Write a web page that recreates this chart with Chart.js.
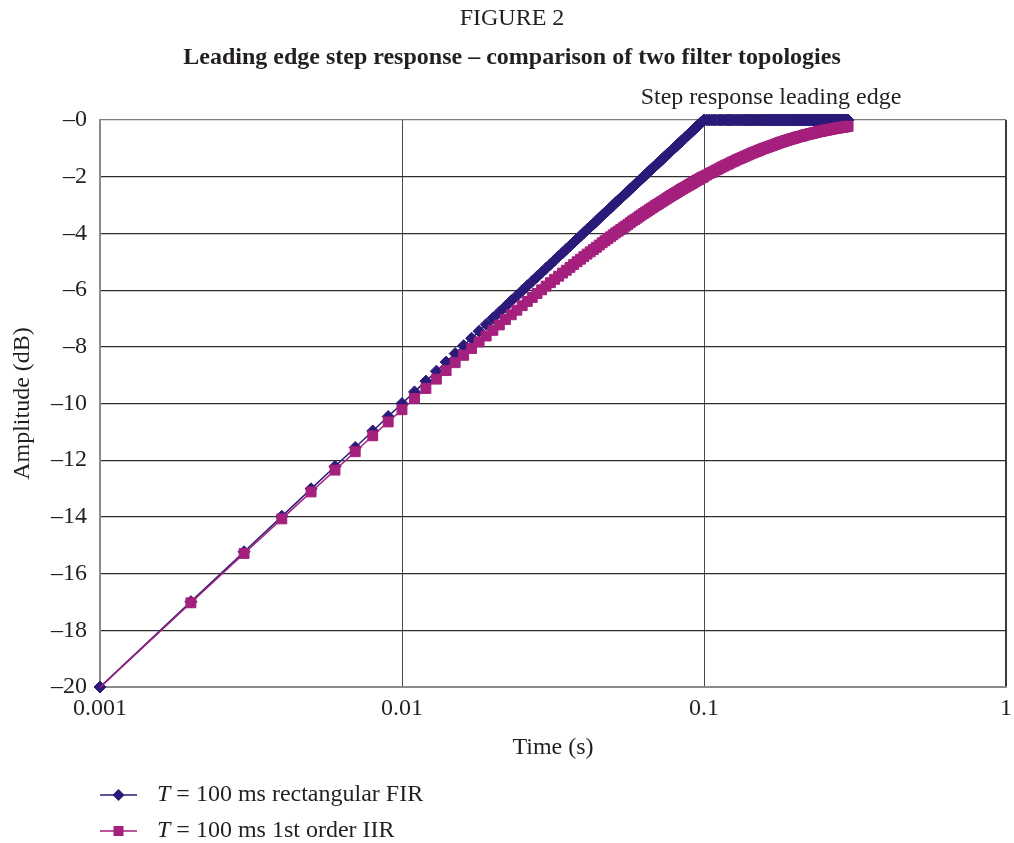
<!DOCTYPE html>
<html>
<head>
<meta charset="utf-8">
<title>Leading edge step response</title>
<script src="https://cdn.jsdelivr.net/npm/chart.js@4"></script>
<style>
  html, body { margin: 0; padding: 0; background: #ffffff; }
  #wrap { width: 1014px; height: 843px; }
</style>
</head>
<body>
<div id="wrap"><canvas id="chart" width="1014" height="843"></canvas></div>
<script>
// Sample times in milliseconds (1 ms steps up to 100 ms, then 2 ms steps).
const timesMs = [
  1,2,3,4,5,6,7,8,9,10,11,12,13,14,15,16,17,18,19,20,
  21,22,23,24,25,26,27,28,29,30,31,32,33,34,35,36,37,38,39,40,
  41,42,43,44,45,46,47,48,49,50,51,52,53,54,55,56,57,58,59,60,
  61,62,63,64,65,66,67,68,69,70,71,72,73,74,75,76,77,78,79,80,
  81,82,83,84,85,86,87,88,89,90,91,92,93,94,95,96,97,98,99,100,
  102,104,106,108,110,112,114,116,118,120,122,124,126,128,130,132,134,136,138,140,
  142,144,146,148,150,152,154,156,158,160,162,164,166,168,170,172,174,176,178,180,
  182,184,186,188,190,192,194,196,198,200,202,204,206,208,210,212,214,216,218,220,
  222,224,226,228,230,232,234,236,238,240,242,244,246,248,250,252,254,256,258,260,
  262,264,266,268,270,272,274,276,278,280,282,284,286,288,290,292,294,296,298,300
];

// T = 100 ms rectangular FIR, amplitude in dB
const firDb = [
  -20.00,-16.99,-15.23,-13.98,-13.01,-12.22,-11.55,-10.97,-10.46,-10.00,
  -9.59,-9.21,-8.86,-8.54,-8.24,-7.96,-7.70,-7.45,-7.21,-6.99,
  -6.78,-6.58,-6.38,-6.20,-6.02,-5.85,-5.69,-5.53,-5.38,-5.23,
  -5.09,-4.95,-4.81,-4.69,-4.56,-4.44,-4.32,-4.20,-4.09,-3.98,
  -3.87,-3.77,-3.67,-3.57,-3.47,-3.37,-3.28,-3.19,-3.10,-3.01,
  -2.92,-2.84,-2.76,-2.68,-2.60,-2.52,-2.44,-2.37,-2.29,-2.22,
  -2.15,-2.08,-2.01,-1.94,-1.87,-1.80,-1.74,-1.67,-1.61,-1.55,
  -1.49,-1.43,-1.37,-1.31,-1.25,-1.19,-1.14,-1.08,-1.02,-0.97,
  -0.92,-0.86,-0.81,-0.76,-0.71,-0.66,-0.60,-0.56,-0.51,-0.46,
  -0.41,-0.36,-0.32,-0.27,-0.22,-0.18,-0.13,-0.09,-0.04,0.00,
  0,0,0,0,0,0,0,0,0,0,0,0,0,0,0,0,0,0,0,0,
  0,0,0,0,0,0,0,0,0,0,0,0,0,0,0,0,0,0,0,0,
  0,0,0,0,0,0,0,0,0,0,0,0,0,0,0,0,0,0,0,0,
  0,0,0,0,0,0,0,0,0,0,0,0,0,0,0,0,0,0,0,0,
  0,0,0,0,0,0,0,0,0,0,0,0,0,0,0,0,0,0,0,0
];

// T = 100 ms 1st order IIR, amplitude in dB
const iirDb = [
  -20.02,-17.03,-15.29,-14.07,-13.12,-12.35,-11.70,-11.14,-10.65,-10.22,
  -9.82,-9.47,-9.14,-8.84,-8.56,-8.30,-8.06,-7.83,-7.62,-7.42,
  -7.23,-7.04,-6.87,-6.71,-6.55,-6.40,-6.26,-6.12,-5.99,-5.86,
  -5.74,-5.62,-5.51,-5.40,-5.30,-5.20,-5.10,-5.00,-4.91,-4.82,
  -4.73,-4.65,-4.57,-4.49,-4.41,-4.33,-4.26,-4.19,-4.12,-4.05,
  -3.98,-3.92,-3.86,-3.80,-3.74,-3.68,-3.62,-3.56,-3.51,-3.46,
  -3.40,-3.35,-3.30,-3.25,-3.21,-3.16,-3.11,-3.07,-3.02,-2.98,
  -2.94,-2.90,-2.86,-2.82,-2.78,-2.74,-2.70,-2.66,-2.63,-2.59,
  -2.56,-2.52,-2.49,-2.45,-2.42,-2.39,-2.36,-2.33,-2.30,-2.27,
  -2.24,-2.21,-2.18,-2.15,-2.12,-2.10,-2.07,-2.04,-2.02,-1.99,
  -1.94,-1.89,-1.85,-1.80,-1.76,-1.72,-1.67,-1.63,-1.59,-1.56,
  -1.52,-1.48,-1.45,-1.41,-1.38,-1.35,-1.32,-1.29,-1.26,-1.23,
  -1.20,-1.17,-1.15,-1.12,-1.10,-1.07,-1.05,-1.02,-1.00,-0.98,
  -0.96,-0.94,-0.92,-0.90,-0.88,-0.86,-0.84,-0.82,-0.80,-0.78,
  -0.77,-0.75,-0.73,-0.72,-0.70,-0.69,-0.67,-0.66,-0.65,-0.63,
  -0.62,-0.60,-0.59,-0.58,-0.57,-0.56,-0.54,-0.53,-0.52,-0.51,
  -0.50,-0.49,-0.48,-0.47,-0.46,-0.45,-0.44,-0.43,-0.42,-0.41,
  -0.40,-0.40,-0.39,-0.38,-0.37,-0.36,-0.36,-0.35,-0.34,-0.34,
  -0.33,-0.32,-0.31,-0.31,-0.30,-0.30,-0.29,-0.28,-0.28,-0.27,
  -0.27,-0.26,-0.26,-0.25,-0.25,-0.24,-0.24,-0.23,-0.23,-0.22
];

// Axis ticks
const xTickValues = [0.001, 0.01, 0.1, 1];
const xTickLabels = ['0.001', '0.01', '0.1', '1'];
const yTickValues = [-20, -18, -16, -14, -12, -10, -8, -6, -4, -2, 0];
const yTickLabels = ['\u201320', '\u201318', '\u201316', '\u201314', '\u201312', '\u201310',
                     '\u20138', '\u20136', '\u20134', '\u20132', '\u20130'];

const seriesNames = ['T = 100 ms rectangular FIR', 'T = 100 ms 1st order IIR'];

const FIR_COLOR = '#2b1a78';
const IIR_COLOR = '#a5207d';
const TEXT_COLOR = '#231f20';
const SERIF = "'Liberation Serif', 'Times New Roman', 'DejaVu Serif', serif";

const toPoints = (vals) => vals.map((v, i) => ({ x: timesMs[i] / 1000, y: v }));

// Titles, the edge annotation and the legend below the plot
const textPlugin = {
  id: 'figureText',
  afterDraw(chart) {
    const ctx = chart.ctx;
    ctx.save();
    ctx.fillStyle = TEXT_COLOR;
    ctx.textBaseline = 'middle';
    ctx.textAlign = 'center';

    ctx.font = '24px ' + SERIF;
    ctx.fillText('FIGURE 2', 512, 19);

    ctx.font = 'bold 24px ' + SERIF;
    ctx.fillText('Leading edge step response \u2013 comparison of two filter topologies', 512, 58);

    ctx.font = '24px ' + SERIF;
    ctx.fillText('Step response leading edge', 771, 98);

    // legend
    const rows = [
      { y: 795, color: FIR_COLOR, shape: 'diamond', name: seriesNames[0] },
      { y: 831, color: IIR_COLOR, shape: 'square', name: seriesNames[1] }
    ];
    rows.forEach(r => {
      ctx.strokeStyle = r.color;
      ctx.lineWidth = 1.5;
      ctx.beginPath();
      ctx.moveTo(100, r.y);
      ctx.lineTo(137, r.y);
      ctx.stroke();
      ctx.fillStyle = r.color;
      ctx.beginPath();
      if (r.shape === 'diamond') {
        ctx.moveTo(118.5, r.y - 6);
        ctx.lineTo(124.5, r.y);
        ctx.lineTo(118.5, r.y + 6);
        ctx.lineTo(112.5, r.y);
        ctx.closePath();
      } else {
        ctx.rect(113.5, r.y - 5, 10, 10);
      }
      ctx.fill();

      ctx.fillStyle = TEXT_COLOR;
      ctx.textAlign = 'left';
      const italic = r.name.slice(0, 1);
      const rest = r.name.slice(1);
      ctx.font = 'italic 24px ' + SERIF;
      ctx.fillText(italic, 157, r.y);
      const w = ctx.measureText(italic).width;
      ctx.font = '24px ' + SERIF;
      ctx.fillText(rest, 157 + w, r.y);
    });
    ctx.restore();
  }
};

new Chart(document.getElementById('chart'), {
  type: 'line',
  data: {
    datasets: [
      {
        label: seriesNames[0],
        data: toPoints(firDb),
        borderColor: FIR_COLOR,
        backgroundColor: FIR_COLOR,
        borderWidth: 1.5,
        pointStyle: 'rectRot',
        pointRadius: 6,
        pointBorderWidth: 1,
        pointBorderColor: FIR_COLOR,
        pointBackgroundColor: FIR_COLOR,
        tension: 0,
        clip: false,
        order: 2
      },
      {
        label: seriesNames[1],
        data: toPoints(iirDb),
        borderColor: IIR_COLOR,
        backgroundColor: IIR_COLOR,
        borderWidth: 1.5,
        pointStyle: 'rect',
        // markers outside the amplitude range are not shown
        pointRadius: (c) => (c.raw && c.raw.y < -20 ? 0 : 7),
        pointBorderWidth: 1,
        pointBorderColor: IIR_COLOR,
        pointBackgroundColor: IIR_COLOR,
        tension: 0,
        clip: false,
        order: 1
      }
    ]
  },
  options: {
    responsive: false,
    animation: false,
    events: [],
    layout: { padding: { left: 0, top: 120, right: 4, bottom: 80 } },
    plugins: {
      legend: { display: false },
      title: { display: false },
      tooltip: { enabled: false }
    },
    scales: {
      x: {
        type: 'logarithmic',
        min: 0.001,
        max: 1,
        afterFit: (s) => { s.height = 76; s.paddingLeft = 0; s.paddingRight = 0; },
        afterBuildTicks: (s) => { s.ticks = xTickValues.map(v => ({ value: v })); },
        ticks: {
          autoSkip: false,
          maxRotation: 0,
          padding: 7,
          color: TEXT_COLOR,
          font: { family: SERIF, size: 24 },
          callback: (v, i) => xTickLabels[i]
        },
        grid: {
          drawTicks: false,
          color: (c) => (c.tick && c.tick.value === 1 ? '#3a3a3a' : '#4a4a4a'),
          lineWidth: (c) => (c.tick && c.tick.value === 1 ? 2 : 1)
        },
        border: { display: true, color: '#8a8a8a', width: 2 },
        title: {
          display: true,
          text: 'Time (s)',
          color: TEXT_COLOR,
          font: { family: SERIF, size: 24 },
          padding: { top: 0, bottom: 1 }
        }
      },
      y: {
        type: 'linear',
        min: -20,
        max: 0,
        afterFit: (s) => { s.width = 100; s.paddingTop = 0; s.paddingBottom = 0; },
        afterBuildTicks: (s) => { s.ticks = yTickValues.map(v => ({ value: v })); },
        ticks: {
          padding: 13,
          color: TEXT_COLOR,
          font: { family: SERIF, size: 24 },
          callback: (v, i) => yTickLabels[i]
        },
        grid: {
          drawTicks: false,
          color: (c) => (c.tick && c.tick.value === 0 ? '#7a7a7a' : '#2e2e2e'),
          lineWidth: 1.2
        },
        border: { display: true, color: '#8a8a8a', width: 2 },
        title: {
          display: true,
          text: 'Amplitude (dB)',
          color: TEXT_COLOR,
          font: { family: SERIF, size: 24 },
          padding: { top: 8, bottom: 0 }
        }
      }
    }
  },
  plugins: [textPlugin]
});
</script>
</body>
</html>
